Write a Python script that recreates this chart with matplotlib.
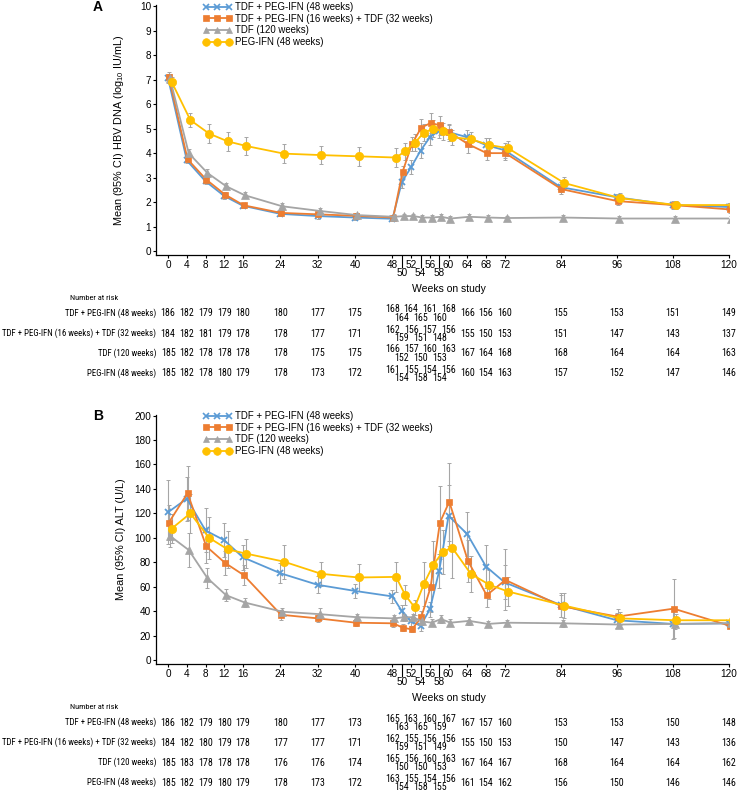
import matplotlib
matplotlib.use('Agg')
import matplotlib.pyplot as plt
from matplotlib import font_manager as fm
from matplotlib.lines import Line2D
from matplotlib.transforms import blended_transform_factory

plt.rcParams['font.family'] = ['Liberation Sans', 'DejaVu Sans']
plt.rcParams['mathtext.fontset'] = 'custom'
plt.rcParams['mathtext.rm'] = 'Liberation Sans'
plt.rcParams['mathtext.default'] = 'regular'

W, H = 738, 791

weeks = [0, 4, 8, 12, 16, 24, 32, 40, 48, 50, 52, 54, 56, 58, 60, 64, 68, 72, 84, 96, 108, 120]
top_ticks = [0, 4, 8, 12, 16, 24, 32, 40, 48, 52, 56, 60, 64, 68, 72, 84, 96, 108, 120]
low_ticks = [50, 54, 58]

groups = ['TDF + PEG-IFN (48 weeks)',
          'TDF + PEG-IFN (16 weeks) + TDF (32 weeks)',
          'TDF (120 weeks)',
          'PEG-IFN (48 weeks)']
colors = ['#5B9BD5', '#ED7D31', '#A5A5A5', '#FFC000']
markers = ['x', 's', '^', 'o']
msizes = [5, 5, 5.5, 6]
dodge = [0, 0.15, 0.4, 0.75]

### Panel A: HBV DNA (log10 IU/mL) ###
dna_combo48 = [7.05, 3.7, 2.85, 2.25, 1.85, 1.52, 1.43, 1.37, 1.32, 2.82, 3.43, 4.1, 4.65, 4.92, 4.86,
               4.65, 4.33, 4.12, 2.61, 2.2, 1.88, 1.8]
dna_combo16 = [7.1, 3.75, 2.92, 2.31, 1.87, 1.56, 1.5, 1.44, 1.37, 3.23, 4.37, 5.04, 5.23, 5.14, 4.86,
               4.37, 4.0, 4.0, 2.53, 2.04, 1.88, 1.7]
dna_tdf = [7.05, 4.0, 3.19, 2.65, 2.28, 1.83, 1.64, 1.47, 1.4, 1.43, 1.43, 1.37, 1.37, 1.4, 1.33,
           1.4, 1.37, 1.35, 1.37, 1.33, 1.33, 1.33]
dna_peg = [6.91, 5.35, 4.8, 4.48, 4.29, 3.98, 3.92, 3.87, 3.82, 4.08, 4.42, 4.84, 5.0, 4.9, 4.65,
           4.57, 4.33, 4.2, 2.78, 2.16, 1.88, 1.88]

dna_err_combo48 = [0.2, 0.12, 0.12, 0.12, 0.1, 0.1, 0.1, 0.1, 0.1, 0.25, 0.3, 0.3, 0.3, 0.3, 0.3,
                   0.3, 0.3, 0.3, 0.2, 0.15, 0.15, 0.15]
dna_err_combo16 = [0.2, 0.12, 0.12, 0.12, 0.1, 0.1, 0.1, 0.1, 0.1, 0.25, 0.3, 0.35, 0.4, 0.38, 0.35,
                   0.35, 0.3, 0.3, 0.2, 0.15, 0.15, 0.15]
dna_err_tdf = [0.2, 0.15, 0.15, 0.12, 0.12, 0.12, 0.12, 0.1, 0.1, 0.1, 0.1, 0.1, 0.1, 0.1, 0.1,
               0.1, 0.1, 0.1, 0.1, 0.1, 0.1, 0.1]
dna_err_peg = [0.2, 0.3, 0.38, 0.38, 0.38, 0.4, 0.38, 0.38, 0.4, 0.35, 0.35, 0.35, 0.35, 0.35, 0.3,
               0.3, 0.3, 0.3, 0.25, 0.2, 0.15, 0.2]

risk_a_combo48 = [186, 182, 179, 179, 180, 180, 177, 175, 168, 164, 164, 165, 161, 160, 168,
                  166, 156, 160, 155, 153, 151, 149]
risk_a_combo16 = [184, 182, 181, 179, 178, 178, 177, 171, 162, 159, 156, 151, 157, 148, 156,
                  155, 150, 153, 151, 147, 143, 137]
risk_a_tdf = [185, 182, 178, 178, 178, 178, 175, 175, 166, 152, 157, 150, 160, 153, 163,
              167, 164, 168, 168, 164, 164, 163]
risk_a_peg = [185, 182, 178, 180, 179, 178, 173, 172, 161, 154, 155, 158, 154, 154, 156,
              160, 154, 163, 157, 152, 147, 146]

### Panel B: ALT (U/L) ###
alt_combo48 = [121, 132, 106, 98, 84, 71, 61.5, 56.5, 52, 40, 31.5, 28, 41.5, 73, 118,
               103, 76.5, 63.5, 45, 32.5, 29.5, 30]
alt_combo16 = [112.5, 136.5, 93, 79.5, 69.5, 37, 34, 30.5, 30, 26.5, 25, 35, 59.5, 112.5, 129.5,
               81, 53, 65.5, 44, 35.5, 42, 28]
alt_tdf = [101.5, 90, 67, 53, 47, 39.5, 37.5, 35, 34, 35, 35, 31.5, 30.5, 33.5, 30.5,
           32, 29.5, 30.5, 30, 29, 29.5, 30]
alt_peg = [107.5, 120, 100, 90.5, 87, 80.5, 70.5, 67.5, 68, 53, 43, 62.5, 78, 88.5, 92,
           70.5, 61.5, 56, 44.5, 34, 32.5, 32.5]

alt_err_combo48 = [26, 18, 18, 14, 10, 8, 7, 6, 5, 5, 4, 4, 6, 14, 25, 18, 18, 14, 10, 6, 12, 3]
alt_err_combo16 = [14, 22, 14, 10, 8, 4, 3, 3, 3, 3, 2, 5, 20, 30, 32, 17, 10, 25, 9, 6, 24, 2]
alt_err_tdf = [9, 14, 8, 5, 4, 3, 5, 3, 3, 3, 3, 3, 3, 3, 3, 3, 2, 2, 3, 2, 4, 2]
alt_err_peg = [12, 16, 17, 15, 12, 14, 10, 11, 12, 8, 6, 18, 19, 18, 25, 15, 12, 12, 10, 5, 5, 4]

risk_b_combo48 = [186, 182, 179, 180, 179, 180, 177, 173, 165, 163, 163, 165, 160, 159, 167,
                  167, 157, 160, 153, 153, 150, 148]
risk_b_combo16 = [184, 182, 180, 179, 178, 177, 177, 171, 162, 159, 155, 151, 156, 149, 156,
                  155, 150, 153, 150, 147, 143, 136]
risk_b_tdf = [185, 183, 178, 178, 178, 176, 176, 174, 165, 150, 156, 150, 160, 153, 163,
              167, 164, 167, 168, 164, 164, 162]
risk_b_peg = [185, 182, 179, 180, 179, 178, 173, 172, 163, 154, 155, 158, 154, 155, 156,
              161, 154, 162, 156, 150, 146, 146]


# look for a narrow / condensed face for the table, else plain Liberation Sans
def find_narrow():
    prefs = ['liberation sans narrow', 'arial narrow', 'roboto condensed', 'noto sans',
             'open sans', 'dejavu sans', 'inter', 'lato']
    found = []
    for f in fm.fontManager.ttflist:
        nm = f.name.lower()
        fn = f.fname.lower()
        narrowish = ('narrow' in nm or 'condensed' in nm or 'narrow' in fn or 'condensed' in fn
                     or str(f.stretch) in ('condensed', 'semi-condensed', 'extra-condensed'))
        if not narrowish or 'bold' in fn or 'italic' in fn or 'oblique' in fn:
            continue
        if f.style != 'normal' or f.weight not in (400, 'normal', 'regular'):
            continue
        if 'light' in fn or 'medium' in fn or 'semi' in fn.replace('semicondensed', '') or 'black' in fn:
            continue
        rank = len(prefs)
        for i, p in enumerate(prefs):
            if nm.startswith(p):
                rank = i
                break
        found.append((rank, f.fname))
    if found:
        found.sort()
        return fm.FontProperties(fname=found[0][1])
    return fm.FontProperties(family='Liberation Sans')


NARROW = find_narrow()


def nprop(size):
    p = NARROW.copy()
    p.set_size(size)
    return p


def fy(px):
    return 1 - px / H


def draw_panel(ax, series, errors, risks, ylim, yticks, ylabel, letter, top_px, bottom_px):
    for i in range(4):
        x = [w + dodge[i] for w in weeks]
        ax.errorbar(x, series[i], yerr=errors[i], fmt='none', ecolor='#A6A6A6',
                    elinewidth=0.8, capsize=1.5, capthick=0.7, zorder=1)
        ax.plot(x, series[i], color=colors[i], marker=markers[i], ms=msizes[i],
                mew=1.3 if markers[i] == 'x' else 0.5, lw=1.3, zorder=3 + i * 0.1)

    ax.set_xlim(-2.6, 120)
    ax.set_ylim(*ylim)
    ax.set_yticks(yticks)
    ax.set_xticks(top_ticks)
    ax.set_xticks(low_ticks, minor=True)
    ax.set_xticklabels([str(t) for t in low_ticks], minor=True)
    ax.tick_params(axis='x', which='major', length=2, width=0.8, pad=1.5, labelsize=7.2)
    ax.tick_params(axis='x', which='minor', length=9.5, width=0.8, pad=0, labelsize=7.2)
    ax.tick_params(axis='y', length=2.5, width=0.8, pad=1, labelsize=7.2)
    for s in ['top', 'right']:
        ax.spines[s].set_visible(False)
    for s in ['left', 'bottom']:
        ax.spines[s].set_linewidth(0.9)
    ax.set_ylabel(ylabel, fontsize=7.8)
    ax.yaxis.set_label_coords(-0.052, 0.5)

    fig.text(98 / W, fy(top_px + 2), letter, fontsize=10, fontweight='bold',
             ha='center', va='center')

    handles = [Line2D([], [], color=colors[i], marker=markers[i], ms=msizes[i] - 0.5,
                      mew=1.2 if markers[i] == 'x' else 0.5, lw=1.3) for i in range(4)]
    ax.legend(handles, groups, loc='upper left', bbox_to_anchor=(203 / W, fy(top_px - 3)),
              bbox_transform=fig.transFigure, frameon=False, numpoints=3, fontsize=6.9,
              handlelength=3.0, handletextpad=0.35, labelspacing=0.17, borderpad=0,
              borderaxespad=0)

    fig.text(0.5 * (168 + 729) / W, fy(bottom_px + 34), 'Weeks on study', fontsize=7.5,
             ha='center', va='center')

    # number at risk table
    trans = blended_transform_factory(ax.transData, fig.transFigure)
    table_top = bottom_px + 43
    renderer = fig.canvas.get_renderer()
    head = fig.text(70 / W, fy(table_top), 'Number at risk', fontproperties=nprop(6),
                    ha='left', va='center')
    hw = head.get_window_extent(renderer).width
    if hw > 50:
        head.set_fontsize(6 * 50 / hw)
    label_size = 6.4
    num_size = 7.2
    for i in range(4):
        row_px = table_top + 15.5 + 20 * i
        t = fig.text(156 / W, fy(row_px), groups[i], fontproperties=nprop(label_size),
                     ha='right', va='center')
        tw = t.get_window_extent(renderer).width
        if tw > 154:
            t.set_fontsize(label_size * 154 / tw)
        for w, n in zip(weeks, risks[i]):
            shift = 0
            if 48 <= w <= 60:
                shift = 4.5 if w in low_ticks else -4
            fig.text(w, fy(row_px + shift), str(n), transform=trans,
                     fontproperties=nprop(num_size), ha='center', va='center')


fig = plt.figure(figsize=(W / 100, H / 100), dpi=100)
ax_a = fig.add_axes([156 / W, fy(255), (729 - 156) / W, (255 - 5) / H])
ax_b = fig.add_axes([156 / W, fy(664), (729 - 156) / W, (664 - 415) / H])

draw_panel(ax_a,
           [dna_combo48, dna_combo16, dna_tdf, dna_peg],
           [dna_err_combo48, dna_err_combo16, dna_err_tdf, dna_err_peg],
           [risk_a_combo48, risk_a_combo16, risk_a_tdf, risk_a_peg],
           (-0.16, 10.05), range(0, 11),
           'Mean (95% CI) HBV DNA (log$_{10}$ IU/mL)', 'A', 5, 255)

draw_panel(ax_b,
           [alt_combo48, alt_combo16, alt_tdf, alt_peg],
           [alt_err_combo48, alt_err_combo16, alt_err_tdf, alt_err_peg],
           [risk_b_combo48, risk_b_combo16, risk_b_tdf, risk_b_peg],
           (-3.3, 200.5), range(0, 201, 20),
           'Mean (95% CI) ALT (U/L)', 'B', 414, 664)

fig.savefig('out.png', dpi=100)
